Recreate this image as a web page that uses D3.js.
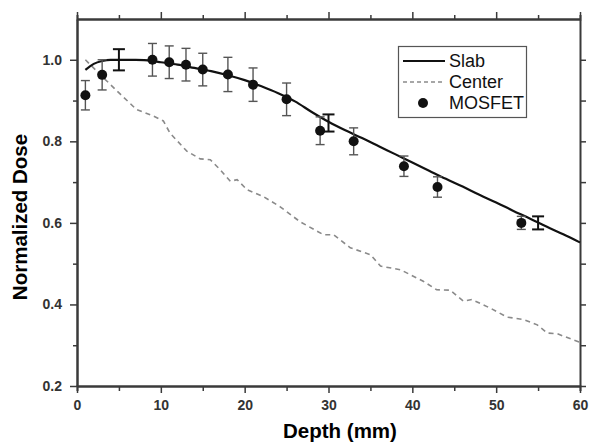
<!DOCTYPE html>
<html><head><meta charset="utf-8">
<script src="https://cdn.jsdelivr.net/npm/d3@7"></script>
<style>body{margin:0;background:#fff}svg{display:block;font-family:Arial,"Liberation Sans",sans-serif}</style>
</head><body><svg id="c" width="589" height="442"></svg>
<script>
// Slab simulation curve
const slabX = [1,2,3,4,5,6,7,8,9,10,12,14,16,18,20,22,24,26,28,30,32,34,36,38,40,42,44,46,48,50,52,54,56,58,60];
const slabY = [0.975,0.99,0.997,1.0,1.0,1.0,1.0,0.999,0.997,0.994,0.988,0.98,0.972,0.962,0.95,0.935,0.918,0.898,0.872,0.848,0.827,0.808,0.788,0.768,0.748,0.728,0.708,0.689,0.669,0.65,0.63,0.611,0.591,0.572,0.552];
// Slab error bars
const slabErrX = [5,30,55];
const slabErrY = [1.0,0.845,0.60];
const slabErrE = [0.026,0.021,0.016];
// Center curve
const centerX = [1,2.75,5.2,7.1,9.1,10.3,11.1,13.1,14.7,15.9,17.1,18.3,19.1,20.3,22.2,24.2,26.6,29.4,30.6,32.6,35.0,36.2,38.6,41.3,42.9,44.5,46.1,47.1,49.3,51.3,53.3,54.9,56.1,57.3,60];
const centerY = [1.0,0.964,0.915,0.878,0.862,0.85,0.82,0.776,0.757,0.755,0.73,0.702,0.706,0.681,0.665,0.64,0.603,0.571,0.571,0.539,0.522,0.494,0.485,0.457,0.436,0.435,0.408,0.412,0.391,0.369,0.363,0.35,0.33,0.328,0.307];
// MOSFET measurements
const mosX = [1,3,9,11,13,15,18,21,25,29,33,39,43,53];
const mosY = [0.913,0.963,1.0,0.994,0.988,0.976,0.964,0.939,0.903,0.826,0.80,0.739,0.688,0.60];
const mosE = [0.036,0.037,0.04,0.04,0.04,0.04,0.042,0.041,0.04,0.034,0.033,0.025,0.025,0.016];
const xTicks = [0,10,20,30,40,50,60];
const yTicks = [0.2,0.4,0.6,0.8,1.0];
const legendLabels = ["Slab","Center","MOSFET"];

const svg = d3.select("#c");
const L=77, R=580, T=19, B=386;
const x = d3.scaleLinear().domain([0,60]).range([L,R]);
const y = d3.scaleLinear().domain([0.2,1.1]).range([B,T]);
const axCol="#3a3a3a";

function styleAxis(g){g.selectAll("path").attr("stroke",axCol).attr("stroke-width",2);
  g.selectAll("line").attr("stroke",axCol).attr("stroke-width",1.5);
  g.selectAll("text").attr("fill","#333").attr("font-weight","bold").attr("font-size",14).attr("font-family","Arial, Liberation Sans, sans-serif");}
const xMinor = d3.range(5,60,10);
const yMinor = [0.3,0.5,0.7,0.9];

svg.append("g").attr("transform",`translate(0,${B})`)
  .call(d3.axisBottom(x).tickValues(xMinor).tickSize(5).tickFormat("")).call(styleAxis);
svg.append("g").attr("transform",`translate(0,${B})`)
  .call(d3.axisBottom(x).tickValues(xTicks).tickSize(7).tickSizeOuter(0).tickPadding(7).tickFormat(d3.format("d"))).call(styleAxis);
svg.append("g").attr("transform",`translate(0,${T})`)
  .call(d3.axisTop(x).tickValues(xMinor).tickSize(4).tickFormat("")).call(styleAxis);
svg.append("g").attr("transform",`translate(0,${T})`)
  .call(d3.axisTop(x).tickValues(xTicks).tickSize(7).tickSizeOuter(0).tickFormat("")).call(styleAxis);
svg.append("g").attr("transform",`translate(${L},0)`)
  .call(d3.axisLeft(y).tickValues(yMinor).tickSize(4).tickSizeOuter(0).tickFormat("")).call(styleAxis);
svg.append("g").attr("transform",`translate(${L},0)`)
  .call(d3.axisLeft(y).tickValues(yTicks).tickSize(7).tickSizeOuter(0).tickPadding(8).tickFormat(d3.format(".1f"))).call(styleAxis);
svg.append("g").attr("transform",`translate(${R},0)`)
  .call(d3.axisRight(y).tickValues(yTicks.concat(yMinor)).tickSize(6).tickSizeOuter(0).tickFormat("")).call(styleAxis);

// center dashed
const line = d3.line().x(d=>x(d[0])).y(d=>y(d[1]));
svg.append("path").datum(centerX.map((v,i)=>[v,centerY[i]]))
  .attr("d",line).attr("fill","none").attr("stroke","#8a8a8a").attr("stroke-width",1.6).attr("stroke-dasharray","5,4");
// slab
svg.append("path").datum(slabX.map((v,i)=>[v,slabY[i]]))
  .attr("d",d3.line().curve(d3.curveMonotoneX).x(d=>x(d[0])).y(d=>y(d[1])))
  .attr("fill","none").attr("stroke","#111").attr("stroke-width",2.2);

// slab error bars
const se = svg.append("g").attr("stroke","#111").attr("stroke-width",2);
slabErrX.forEach((v,i)=>{
  const cx=x(v), y0=y(slabErrY[i]-slabErrE[i]), y1=y(slabErrY[i]+slabErrE[i]);
  se.append("line").attr("x1",cx).attr("x2",cx).attr("y1",y0).attr("y2",y1);
  se.append("line").attr("x1",cx-6).attr("x2",cx+6).attr("y1",y0).attr("y2",y0);
  se.append("line").attr("x1",cx-6).attr("x2",cx+6).attr("y1",y1).attr("y2",y1);
});
// MOSFET error bars
const me = svg.append("g").attr("stroke","#555").attr("stroke-width",1.4);
mosX.forEach((v,i)=>{
  const cx=x(v), y0=y(mosY[i]-mosE[i]), y1=y(mosY[i]+mosE[i]);
  me.append("line").attr("x1",cx).attr("x2",cx).attr("y1",y0).attr("y2",y1);
  me.append("line").attr("x1",cx-4.5).attr("x2",cx+4.5).attr("y1",y0).attr("y2",y0);
  me.append("line").attr("x1",cx-4.5).attr("x2",cx+4.5).attr("y1",y1).attr("y2",y1);
});
svg.append("g").selectAll("circle").data(mosX).join("circle")
  .attr("cx",d=>x(d)).attr("cy",(d,i)=>y(mosY[i])).attr("r",5).attr("fill","#111");

// legend
const lg = svg.append("g");
lg.append("rect").attr("x",398.5).attr("y",46.5).attr("width",128).attr("height",71)
  .attr("fill","#fff").attr("stroke","#555").attr("stroke-width",1.2);
const rows=[61,82,103];
lg.append("line").attr("x1",403).attr("x2",445).attr("y1",rows[0]).attr("y2",rows[0]).attr("stroke","#111").attr("stroke-width",2.2);
lg.append("line").attr("x1",403).attr("x2",445).attr("y1",rows[1]).attr("y2",rows[1]).attr("stroke","#8a8a8a").attr("stroke-width",1.4).attr("stroke-dasharray","4,3");
lg.append("circle").attr("cx",423).attr("cy",rows[2]).attr("r",5).attr("fill","#111");
legendLabels.forEach((t,i)=>{
  lg.append("text").attr("x",449).attr("y",rows[i]).attr("dy","0.35em").attr("font-size",18).attr("fill","#111").text(t);
});

// axis titles
svg.append("text").attr("x",340).attr("y",438).attr("text-anchor","middle")
  .attr("font-weight","bold").attr("font-size",20.5).attr("fill","#000").text("Depth (mm)");
svg.append("text").attr("transform",`translate(27,217) rotate(-90)`).attr("text-anchor","middle")
  .attr("font-weight","bold").attr("font-size",20.5).attr("fill","#000").text("Normalized Dose");
</script></body></html>
